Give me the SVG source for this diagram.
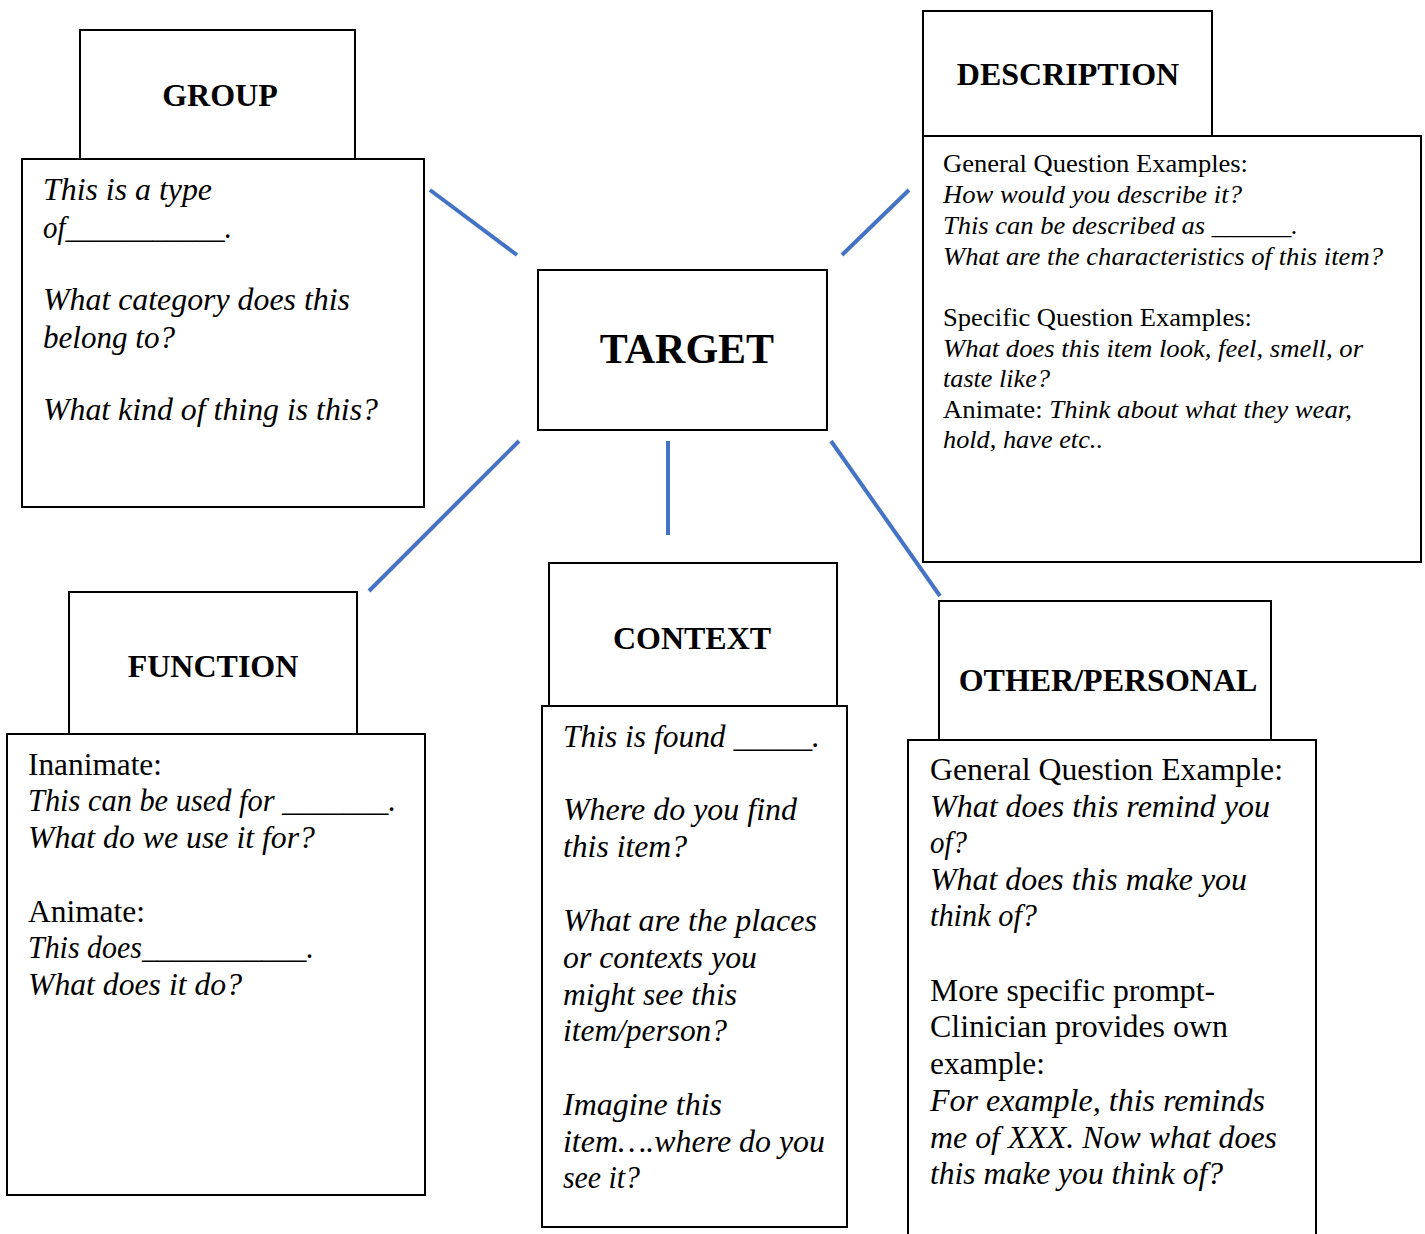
<svg xmlns="http://www.w3.org/2000/svg" width="1425" height="1234" viewBox="0 0 1425 1234">
<style>
.box{fill:#fff;stroke:#000;stroke-width:2}
.hd{font-family:"Liberation Serif","Times New Roman",serif;font-weight:bold;font-size:32px;text-anchor:middle;fill:#000}
.t{font-family:"Liberation Serif","Times New Roman",serif;fill:#000}
.i{font-style:italic}
.g{font-size:31px}
.d{font-size:26px}
.f{font-size:31px}
.conn line{stroke:#4472C4;stroke-width:4}
</style>
<rect width="1425" height="1234" fill="#fff"/>
<g class="conn" id="connectors">
<line x1="430" y1="190" x2="517" y2="255"/>
<line x1="842" y1="255" x2="909" y2="190"/>
<line x1="519" y1="441" x2="369" y2="591"/>
<line x1="668" y1="441" x2="668" y2="535"/>
<line x1="831" y1="441" x2="940" y2="596"/>
</g>
<g id="target">
<rect class="box" x="538" y="270" width="289" height="160"/>
<text class="hd" x="687" y="363" style="font-size:42px">TARGET</text>
</g>
<g id="group">
<rect class="box" x="80" y="30" width="275" height="129"/>
<text class="hd" x="220" y="106">GROUP</text>
<rect class="box" x="22" y="159" width="402" height="348"/>
<text class="t i g" x="43" y="200" textLength="169" lengthAdjust="spacingAndGlyphs">This is a type</text>
<text class="t i g" x="43" y="238" textLength="189" lengthAdjust="spacingAndGlyphs">of___________.</text>
<text class="t i g" x="43" y="310" textLength="307" lengthAdjust="spacingAndGlyphs">What category does this</text>
<text class="t i g" x="43" y="348" textLength="132" lengthAdjust="spacingAndGlyphs">belong to?</text>
<text class="t i g" x="43" y="420" textLength="335" lengthAdjust="spacingAndGlyphs">What kind of thing is this?</text>
</g>
<g id="description">
<rect class="box" x="923" y="11" width="289" height="125"/>
<text class="hd" x="1068" y="85">DESCRIPTION</text>
<rect class="box" x="923" y="136" width="498" height="426"/>
<text class="t d" x="943" y="172" textLength="305" lengthAdjust="spacingAndGlyphs">General Question Examples:</text>
<text class="t d i" x="943" y="203" textLength="299" lengthAdjust="spacingAndGlyphs">How would you describe it?</text>
<text class="t d i" x="943" y="234" textLength="355" lengthAdjust="spacingAndGlyphs">This can be described as ______.</text>
<text class="t d i" x="943" y="265" textLength="440" lengthAdjust="spacingAndGlyphs">What are the characteristics of this item?</text>
<text class="t d" x="943" y="326" textLength="309" lengthAdjust="spacingAndGlyphs">Specific Question Examples:</text>
<text class="t d i" x="943" y="357" textLength="420" lengthAdjust="spacingAndGlyphs">What does this item look, feel, smell, or</text>
<text class="t d i" x="943" y="387" textLength="107" lengthAdjust="spacingAndGlyphs">taste like?</text>
<text class="t d" x="943" y="418" textLength="409" lengthAdjust="spacingAndGlyphs">Animate: <tspan class="i">Think about what they wear,</tspan></text>
<text class="t d i" x="943" y="448" textLength="160" lengthAdjust="spacingAndGlyphs">hold, have etc..</text>
</g>
<g id="function">
<rect class="box" x="69" y="592" width="288" height="142"/>
<text class="hd" x="213" y="677">FUNCTION</text>
<rect class="box" x="7" y="734" width="418" height="461"/>
<text class="t f" x="28" y="775" textLength="134" lengthAdjust="spacingAndGlyphs">Inanimate:</text>
<text class="t f i" x="28" y="811" textLength="368" lengthAdjust="spacingAndGlyphs">This can be used for _______.</text>
<text class="t f i" x="28" y="848" textLength="287" lengthAdjust="spacingAndGlyphs">What do we use it for?</text>
<text class="t f" x="28" y="922" textLength="117" lengthAdjust="spacingAndGlyphs">Animate:</text>
<text class="t f i" x="28" y="958" textLength="286" lengthAdjust="spacingAndGlyphs">This does___________.</text>
<text class="t f i" x="28" y="995" textLength="214" lengthAdjust="spacingAndGlyphs">What does it do?</text>
</g>
<g id="context">
<rect class="box" x="549" y="563" width="288" height="143"/>
<text class="hd" x="692" y="649">CONTEXT</text>
<rect class="box" x="542" y="706" width="305" height="521"/>
<text class="t f i" x="563" y="747" textLength="257" lengthAdjust="spacingAndGlyphs">This is found _____.</text>
<text class="t f i" x="563" y="820" textLength="234" lengthAdjust="spacingAndGlyphs">Where do you find</text>
<text class="t f i" x="563" y="857" textLength="124" lengthAdjust="spacingAndGlyphs">this item?</text>
<text class="t f i" x="563" y="931" textLength="254" lengthAdjust="spacingAndGlyphs">What are the places</text>
<text class="t f i" x="563" y="968" textLength="194" lengthAdjust="spacingAndGlyphs">or contexts you</text>
<text class="t f i" x="563" y="1005" textLength="174" lengthAdjust="spacingAndGlyphs">might see this</text>
<text class="t f i" x="563" y="1041" textLength="164" lengthAdjust="spacingAndGlyphs">item/person?</text>
<text class="t f i" x="563" y="1115" textLength="159" lengthAdjust="spacingAndGlyphs">Imagine this</text>
<text class="t f i" x="563" y="1152" textLength="262" lengthAdjust="spacingAndGlyphs">item….where do you</text>
<text class="t f i" x="563" y="1188" textLength="77" lengthAdjust="spacingAndGlyphs">see it?</text>
</g>
<g id="other-personal">
<rect class="box" x="939" y="601" width="332" height="139"/>
<text class="hd" x="1108" y="691">OTHER/PERSONAL</text>
<rect class="box" x="908" y="740" width="408" height="520"/>
<text class="t f" x="930" y="780" textLength="353" lengthAdjust="spacingAndGlyphs">General Question Example:</text>
<text class="t f i" x="930" y="817" textLength="340" lengthAdjust="spacingAndGlyphs">What does this remind you</text>
<text class="t f i" x="930" y="853" textLength="37" lengthAdjust="spacingAndGlyphs">of?</text>
<text class="t f i" x="930" y="890" textLength="317" lengthAdjust="spacingAndGlyphs">What does this make you</text>
<text class="t f i" x="930" y="926" textLength="107" lengthAdjust="spacingAndGlyphs">think of?</text>
<text class="t f" x="930" y="1001" textLength="285" lengthAdjust="spacingAndGlyphs">More specific prompt-</text>
<text class="t f" x="930" y="1037" textLength="298" lengthAdjust="spacingAndGlyphs">Clinician provides own</text>
<text class="t f" x="930" y="1074" textLength="115" lengthAdjust="spacingAndGlyphs">example:</text>
<text class="t f i" x="930" y="1111" textLength="335" lengthAdjust="spacingAndGlyphs">For example, this reminds</text>
<text class="t f i" x="930" y="1148" textLength="347" lengthAdjust="spacingAndGlyphs">me of XXX. Now what does</text>
<text class="t f i" x="930" y="1184" textLength="293" lengthAdjust="spacingAndGlyphs">this make you think of?</text>
</g>
</svg>
